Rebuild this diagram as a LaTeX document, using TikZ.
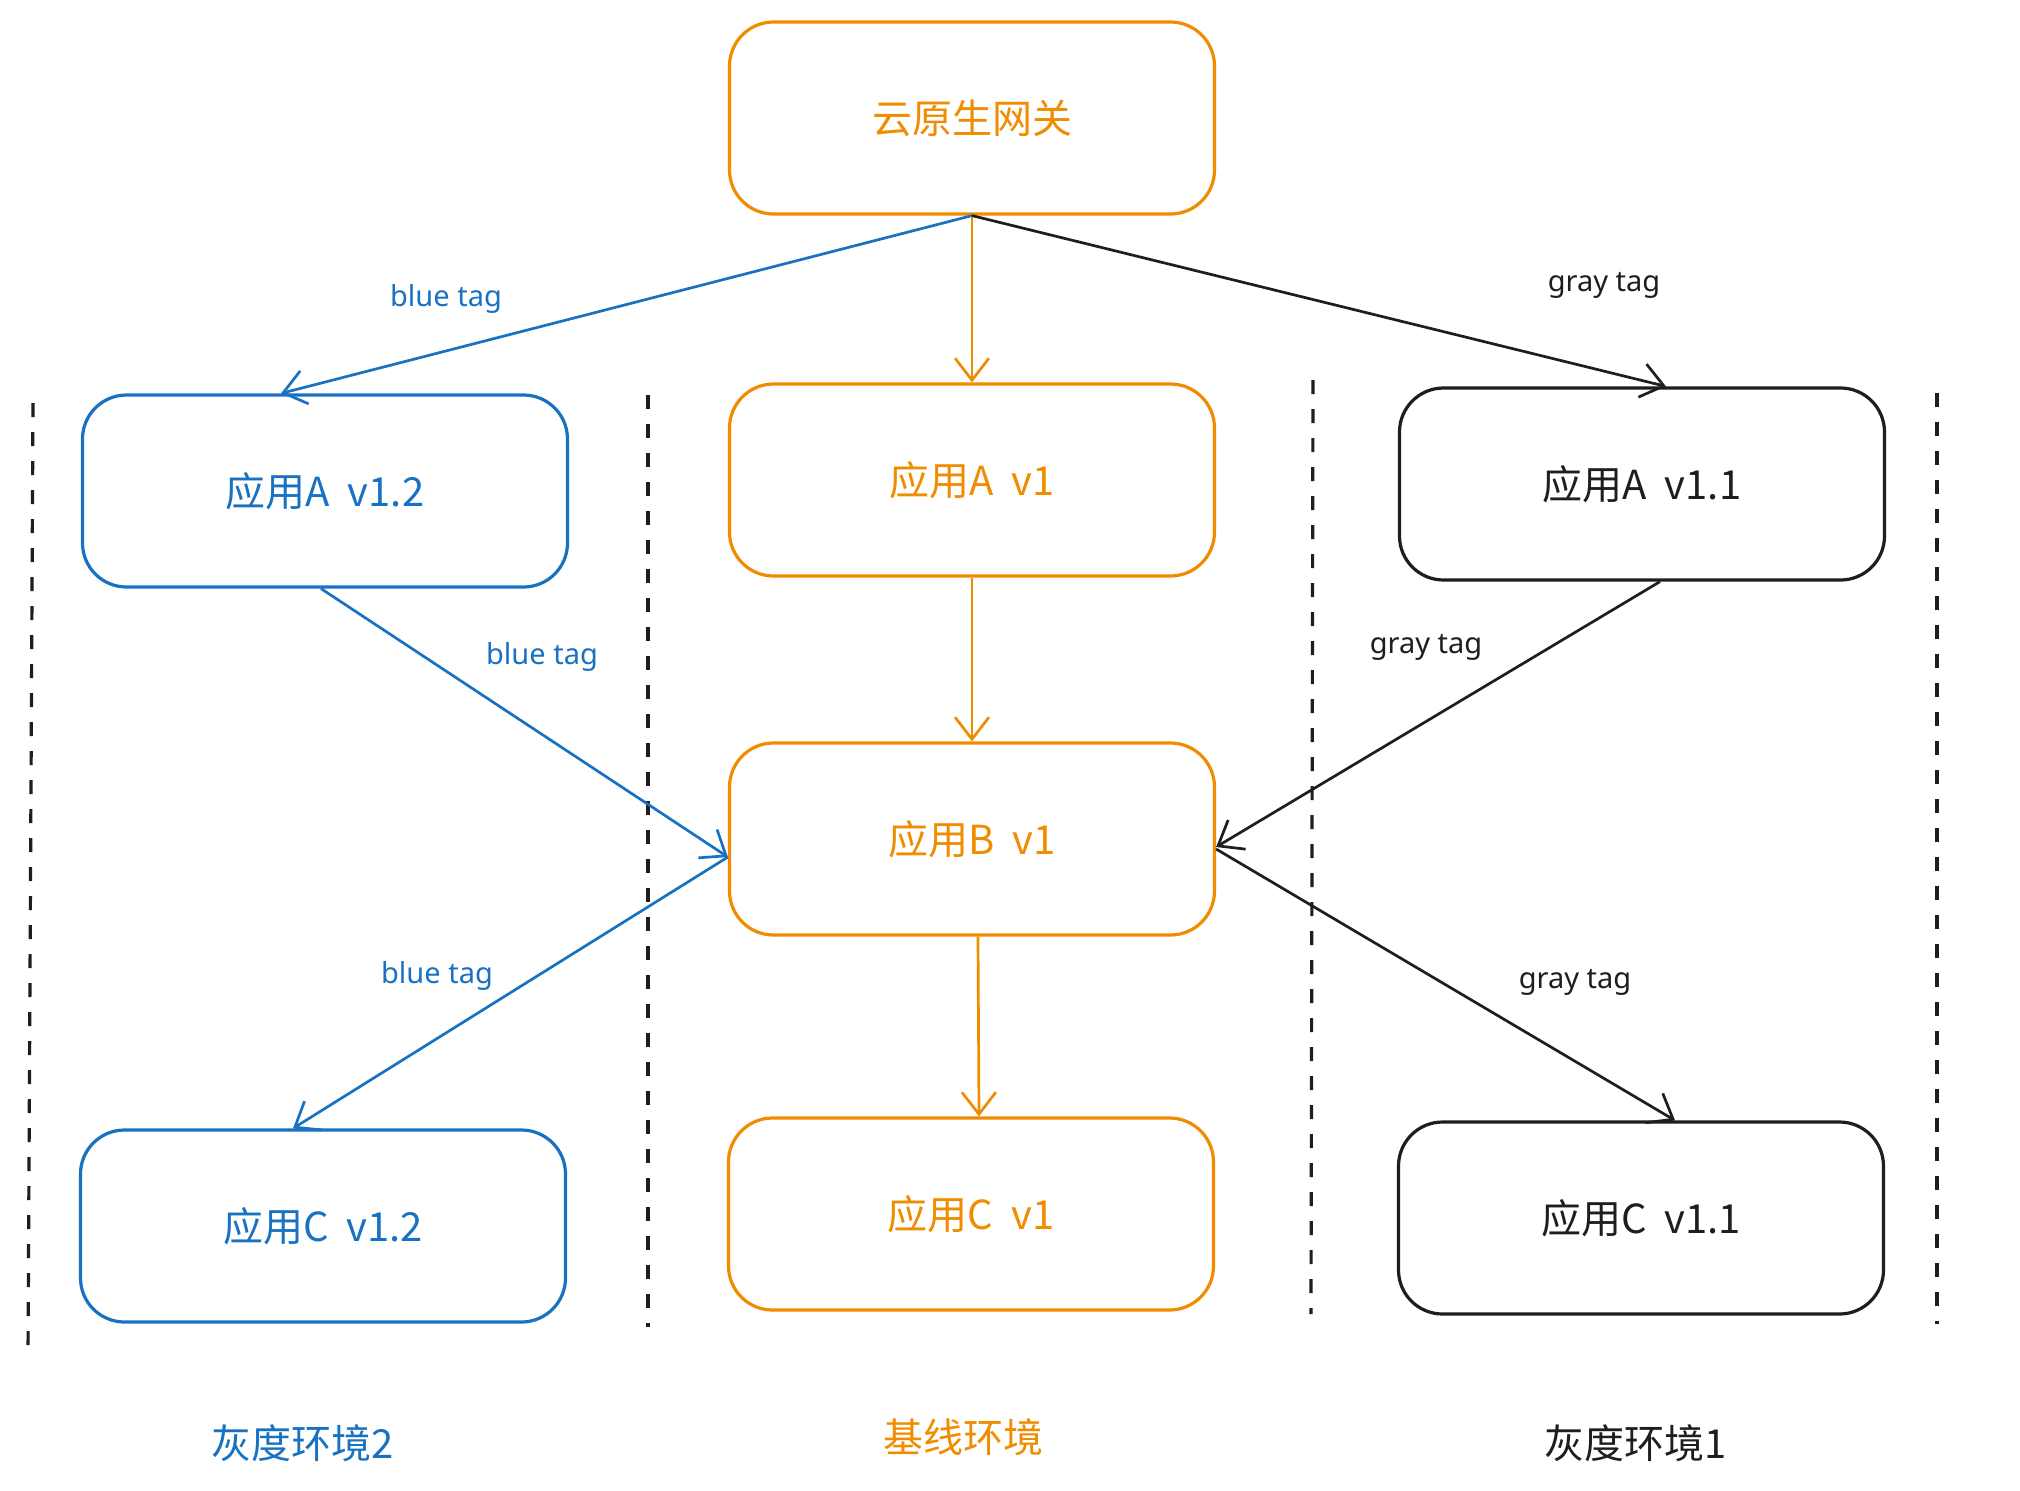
\documentclass[tikz,border=0pt]{standalone}
\usepackage{fontspec}
\setmainfont{Noto Sans CJK SC}
\newfontfamily\cjk{Noto Sans CJK SC}
\newfontfamily\tagfont{Noto Sans}
\usetikzlibrary{arrows.meta,positioning,calc}
\definecolor{exorange}{HTML}{F08C00}
\definecolor{exblue}{HTML}{1971C2}
\definecolor{exblack}{HTML}{1E1E1E}
\tikzset{
  appbox/.style={draw, line width=1.6pt, rounded corners=22pt, minimum width=242.5pt, minimum height=96pt, align=center, font=\cjk\fontsize{20}{24}\selectfont, fill=white},
  orangebox/.style={appbox, draw=exorange, text=exorange},
  bluebox/.style={appbox, draw=exblue, text=exblue},
  blackbox/.style={appbox, draw=exblack, text=exblack},
  conn/.style={line width=1.35pt, -{Straight Barb[length=11pt,width=17pt,line width=1.35pt]}},
  tagtext/.style={font=\tagfont\fontsize{14.5}{16}\selectfont},
  envtext/.style={font=\cjk\fontsize{20}{24}\selectfont},
  sep/.style={draw=exblack, line width=1.6pt, dash pattern=on 7pt off 7.5pt}
}
\begin{document}
\begin{tikzpicture}[x=0.5pt,y=-0.5pt]
\fill[white] (0,0) rectangle (2020,1490);
\useasboundingbox (0,0) rectangle (2020,1490);

% separators
\coordinate (d1t) at (33,403);   \coordinate (d1b) at (28,1359);
\coordinate (d2t) at (648,395);  \coordinate (d2b) at (648,1327);
\coordinate (d3t) at (1313,380); \coordinate (d3b) at (1311,1314);
\coordinate (d4t) at (1937,393); \coordinate (d4b) at (1937,1324);
\draw[sep] (d1t) -- (d1b);
\draw[sep] (d2t) -- (d2b);
\draw[sep] (d3t) -- (d3b);
\draw[sep] (d4t) -- (d4b);

% boxes
\node[orangebox] (gw)  at (972,118)  {云原生网关};
\node[bluebox]   (a12) at (325,491)  {应用A\ \ v1.2};
\node[orangebox] (a1)  at (972,480)  {应用A\ \ v1};
\node[blackbox]  (a11) at (1642,484) {应用A\ \ v1.1};
\node[orangebox] (b)   at (972,839)  {应用B\ \ v1};
\node[bluebox]   (c12) at (323,1226) {应用C\ \ v1.2};
\node[orangebox] (c1)  at (971,1214) {应用C\ \ v1};
\node[blackbox]  (c11) at (1641,1218) {应用C\ \ v1.1};

% connectors
\draw[conn, exblue]   (gw.south) -- ([xshift=-22pt]a12.north);
\draw[conn, exorange] (gw.south) -- (a1.north);
\draw[conn, exblack]  (gw.south) -- ([xshift=12pt]a11.north);
\draw[conn, exorange] (a1.south) -- (b.north);
\draw[conn, exblue]   ([xshift=-2pt]a12.south) -- ([yshift=-9pt]b.west);
\draw[conn, exblue]   ([yshift=-9pt]b.west) -- ([xshift=-15pt]c12.north);
\draw[conn, exblack]  ([xshift=9pt]a11.south) -- ([yshift=-4pt]b.east);
\draw[conn, exblack]  ([yshift=-5pt]b.east) -- ([xshift=17pt]c11.north);
\draw[conn, exorange] ([xshift=3pt]b.south) -- ([xshift=4pt]c1.north);

% tag labels
\node[tagtext, text=exblue]  (t1) at (446,299) {blue tag};
\node[tagtext, text=exblack] (t2) at (1604,285) {gray tag};
\node[tagtext, text=exblue]  (t3) at (542,657) {blue tag};
\node[tagtext, text=exblack] (t4) at (1426,647) {gray tag};
\node[tagtext, text=exblue]  (t5) at (437,976) {blue tag};
\node[tagtext, text=exblack] (t6) at (1575,982) {gray tag};

% environment labels
\node[envtext, text=exblue]   (e2) at (303,1443) {灰度环境2};
\node[envtext, text=exorange] (e0) at (963,1437) {基线环境};
\node[envtext, text=exblack]  (e1) at (1636,1443) {灰度环境1};
\end{tikzpicture}
\end{document}
